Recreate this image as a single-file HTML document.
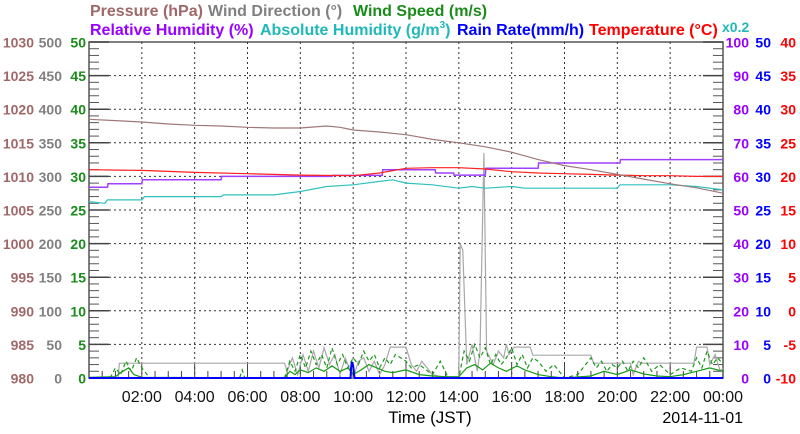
<!DOCTYPE html>
<html><head><meta charset="utf-8"><style>
html,body{margin:0;padding:0;background:#fff;}
svg{display:block;font-family:"Liberation Sans",sans-serif;}
</style></head><body>
<svg id="chart" width="800" height="434" viewBox="0 0 800 434">
<g font-size="16" font-weight="bold">
<text x="90" y="16" fill="#a06868">Pressure (hPa)</text>
<text x="208" y="16" fill="#808080">Wind Direction (°)</text>
<text x="353" y="16" fill="#1a8c1a">Wind Speed (m/s)</text>
<text x="90" y="35" fill="#9900ff">Relative Humidity (%)</text>
<text x="260" y="35" fill="#20b8b8">Absolute Humidity (g/m<tspan font-size="10" dy="-7">3</tspan><tspan dy="7">)</tspan></text>
<text x="457" y="35" fill="#0000ff">Rain Rate(mm/h)</text>
<text x="589" y="35" fill="#ff0000">Temperature (°C)</text>
<text x="722" y="32" fill="#20b8b8" font-size="14" font-weight="bold">x0.2</text>
</g>
<g id="grid"></g>
<g id="axes"></g>
<g id="series"></g>
<text x="430" y="423" font-size="17" text-anchor="middle">Time (JST)</text>
<text x="743" y="423" font-size="16" text-anchor="end">2014-11-01</text>
</svg>
<script>
const NS="http://www.w3.org/2000/svg";
// ---- data ----
const xTickLabels=["02:00","04:00","06:00","08:00","10:00","12:00","14:00","16:00","18:00","20:00","22:00","00:00"];
const pressureTicks=[980,985,990,995,1000,1005,1010,1015,1020,1025,1030];
const dirTicks=[0,50,100,150,200,250,300,350,400,450,500];
const speedTicks=[0,5,10,15,20,25,30,35,40,45,50];
const rhTicks=[0,10,20,30,40,50,60,70,80,90,100];
const rainTicks=[0,5,10,15,20,25,30,35,40,45,50];
const tempTicks=[-10,-5,0,5,10,15,20,25,30,35,40];

const pressureT=[0,1,2,3,4,5,6,7,8,9,9.5,10,11,12,13,14,15,16,17,18,19,20,21,22,23,24];
const pressureV=[1018.5,1018.3,1018.1,1017.8,1017.6,1017.5,1017.3,1017.2,1017.2,1017.5,1017.3,1016.9,1016.6,1016.2,1015.5,1015.0,1014.4,1013.6,1012.5,1011.6,1011.0,1010.3,1009.6,1008.9,1008.3,1007.5];
const tempT=[0,2,4,6,8,10,11,12,13,14,15,16,17,18,19,20,21,22,23,24];
const tempV=[21.0,20.9,20.6,20.4,20.2,20.1,20.5,21.2,21.3,21.3,21.1,20.7,20.5,20.4,20.3,20.2,20.1,20.1,20.0,20.0];
const rhT=[0,0.7,0.72,2.0,2.02,5.0,5.02,9.2,9.22,11.1,11.12,13.1,13.12,13.8,13.82,15.0,15.02,17.0,17.02,20.1,20.12,24];
const rhV=[56.8,56.8,57.8,57.8,59.0,59.0,60.0,60.0,60.3,60.3,62.0,62.0,61.0,61.0,60.4,60.4,62.4,62.4,64.0,64.0,65.0,65.0];
const ahT=[0,0.6,0.7,2,2.1,5,5.1,7,8,9,10,11,11.5,12,13,14,14.5,15,16,16.5,17,18,19,20,20.1,22,23,24];
const ahV=[10.5,10.4,10.6,10.6,10.8,10.8,10.9,10.9,11.1,11.4,11.5,11.7,11.8,11.6,11.5,11.3,11.4,11.3,11.4,11.3,11.3,11.3,11.3,11.3,11.5,11.5,11.4,11.2];
const dirT=[0,1.1,1.15,7.4,7.5,7.7,7.9,8.1,8.3,8.5,8.7,8.9,9.1,9.3,9.5,9.7,9.9,10.0,10.2,10.4,10.6,10.8,11.0,11.2,11.4,12.0,12.2,12.4,12.6,13.0,13.5,14.0,14.05,14.15,14.3,14.5,14.7,14.8,14.95,15.05,15.3,15.5,15.7,15.8,15.9,16.1,16.7,16.8,19.0,19.1,20.5,20.6,20.8,20.9,22.9,23.0,23.4,23.5,23.7,23.9,24];
const dirV=[0,0,22,22,10,30,5,35,10,40,15,45,20,35,5,30,10,0,25,30,10,25,5,20,46,46,20,10,25,5,0,0,200,190,20,50,10,40,335,40,20,40,30,50,35,46,46,34,34,22,22,5,25,22,22,46,46,20,35,10,15];
const windT=[0,1,1.2,1.5,1.7,2,7.4,7.6,7.8,8,8.3,8.6,8.9,9.2,9.5,9.8,10,10.3,10.6,10.9,11.2,11.5,12,12.5,13,13.5,14,14.3,14.6,14.9,15.2,15.5,15.8,16.2,16.5,17,17.5,18,19,19.5,20,20.5,21,21.5,22,22.5,23,23.5,24];
const windV=[0.1,0.2,0.8,1.5,0.5,0.1,0,1,0.5,1.2,0.8,1.5,1,1.8,1,1.5,0.5,1.2,2,1.5,1,0.8,1.2,0.5,0.3,0.2,0.2,1.5,2,1.2,2.2,1.5,1,1.8,1.2,0.5,0.2,0,0.3,1,0.5,1.2,0.6,0.3,0.2,0.5,1,1.5,1];
const gustT=[0,0.8,1,1.2,1.4,1.6,1.8,2,2.3,5.7,5.8,5.9,7.4,7.6,7.8,8,8.2,8.4,8.6,8.8,9,9.2,9.4,9.6,9.8,10,10.2,10.4,10.6,10.8,11,11.2,11.4,11.6,12,12.2,12.5,13,13.3,13.6,14,14.2,14.4,14.6,14.8,15,15.2,15.4,15.6,15.8,16,16.2,16.4,16.6,16.8,17,17.3,17.6,18,18.5,19,19.2,19.4,19.6,19.8,20,20.2,20.4,20.6,20.8,21,21.3,21.6,22,22.4,22.8,23,23.2,23.4,23.6,23.8,24];
const gustV=[0,0,1.5,0.5,2.5,1,3,1.5,0,0,1.2,0,0,2.5,1,3.5,1.5,4,2,3.5,1.5,4.5,2,3.5,1.5,3,2,4,2.5,3.5,1.5,3,2,3.5,2.5,1.5,2,0.5,2.5,0,0,4,2.5,5,3,4.5,2,3.5,2,3,4.5,2,3.5,1.5,3,2.5,1,2,0,0.5,3,1.5,2.5,1,2,1.5,2.5,1,2.5,1.5,3,1,2,0.5,1.5,1,3,1.5,4,2,3,2];
const rainT=[0,9.9,9.92,9.95,10.0,10.05,24];
const rainV=[0,0,1.5,2.4,1.8,0,0];

// ---- axes functions ----
const X0=89,X1=723,Y0=378,Y1=42;
const x=h=>X0+(X1-X0)*h/24;
const yS=v=>Y0-(Y0-Y1)*v/50;
const yP=v=>yS(v-980);
const yD=v=>yS(v/10);
const yRH=v=>yS(v/2);
const yT=v=>yS(v+10);
const yAH=v=>yRH(v/0.2);

function mk(tag,attrs,parent){const e=document.createElementNS(NS,tag);for(const k in attrs)e.setAttribute(k,attrs[k]);parent.appendChild(e);return e;}
const grid=document.getElementById('grid'),axes=document.getElementById('axes'),ser=document.getElementById('series');

let fr=mk('rect',{x:X0,y:Y1,width:X1-X0,height:Y0-Y1,fill:'none',stroke:'#555','stroke-width':1.5},grid);


speedTicks.forEach((v,i)=>{const yy=yS(v);
 if(i>0&&i<speedTicks.length-1){let g=mk('line',{x1:X0,x2:X1,y1:yy,y2:yy,stroke:'#333','stroke-dasharray':'2,3'},grid);
 
 }
 mk('line',{x1:X0,x2:X0+20,y1:yy,y2:yy,stroke:'#444','stroke-width':1.5},grid);
 mk('line',{x1:X1-20,x2:X1,y1:yy,y2:yy,stroke:'#444','stroke-width':1.5},grid);
});
for(let v=0;v<50;v+=5){for(let k=1;k<5;k++){const yy=yS(v+k);mk('line',{x1:X0,x2:X0+10,y1:yy,y2:yy,stroke:'#555'},grid);mk('line',{x1:X1-10,x2:X1,y1:yy,y2:yy,stroke:'#555'},grid);}}
for(let h=2;h<24;h+=2){let g=mk('line',{x1:x(h),x2:x(h),y1:Y1,y2:Y0,stroke:'#333','stroke-dasharray':'2,3'},grid);
 
 }
for(let h=0.5;h<24;h+=0.5){const big=(h%2===0);mk('line',{x1:x(h),x2:x(h),y1:Y0-(big?14:7),y2:Y0,stroke:'#444'},grid);}
xTickLabels.forEach((t,i)=>{let e=mk('text',{x:x((i+1)*2),y:402,'font-size':16,'text-anchor':'middle',fill:'#111'},axes);e.textContent=t;
 
 });
function yLabels(arr,fn,xr,col,name){arr.forEach(v=>{let e=mk('text',{x:xr,y:fn(v)+5.5,'font-size':14,'font-weight':'bold','text-anchor':'end',fill:col},axes);e.textContent=v;
 
 });}
yLabels(pressureTicks,yP,34,'#a06868','pressure-tick-label');
yLabels(dirTicks,yD,62,'#808080','wind-direction-tick-label');
yLabels(speedTicks,yS,86,'#1a8c1a','wind-speed-tick-label');
yLabels(rhTicks,yRH,749,'#9900ff','humidity-tick-label');
yLabels(rainTicks,yS,771,'#0000ff','rain-tick-label');
yLabels(tempTicks,yT,796,'#ff0000','temperature-tick-label');

function line(T,V,fy,col,name,extra){const d=T.map((t,i)=>(i?'L':'M')+x(t).toFixed(1)+','+fy(V[i]).toFixed(1)).join('');
 const a=Object.assign({d:d,fill:'none',stroke:col,'stroke-width':1.2},extra||{});const p=mk('path',a,ser);
 
 }
line(dirT,dirV,yD,'#a8a8a8','wind-direction-line');
line(gustT,gustV,yS,'#1a9a1a','wind-gust-line',{'stroke-dasharray':'4,3'});
line(windT,windV,yS,'#1a9a1a','wind-speed-line');
line(rainT,rainV,yS,'#0000ff','rain-rate-line',{'stroke-width':2});
line(ahT,ahV,yAH,'#30c0c0','absolute-humidity-line');
line(rhT,rhV,yRH,'#a040ff','relative-humidity-line',{'stroke-width':1.5});
line(tempT,tempV,yT,'#ff2020','temperature-line');
line(pressureT,pressureV,yP,'#a07878','pressure-line');
</script>
</body></html>
